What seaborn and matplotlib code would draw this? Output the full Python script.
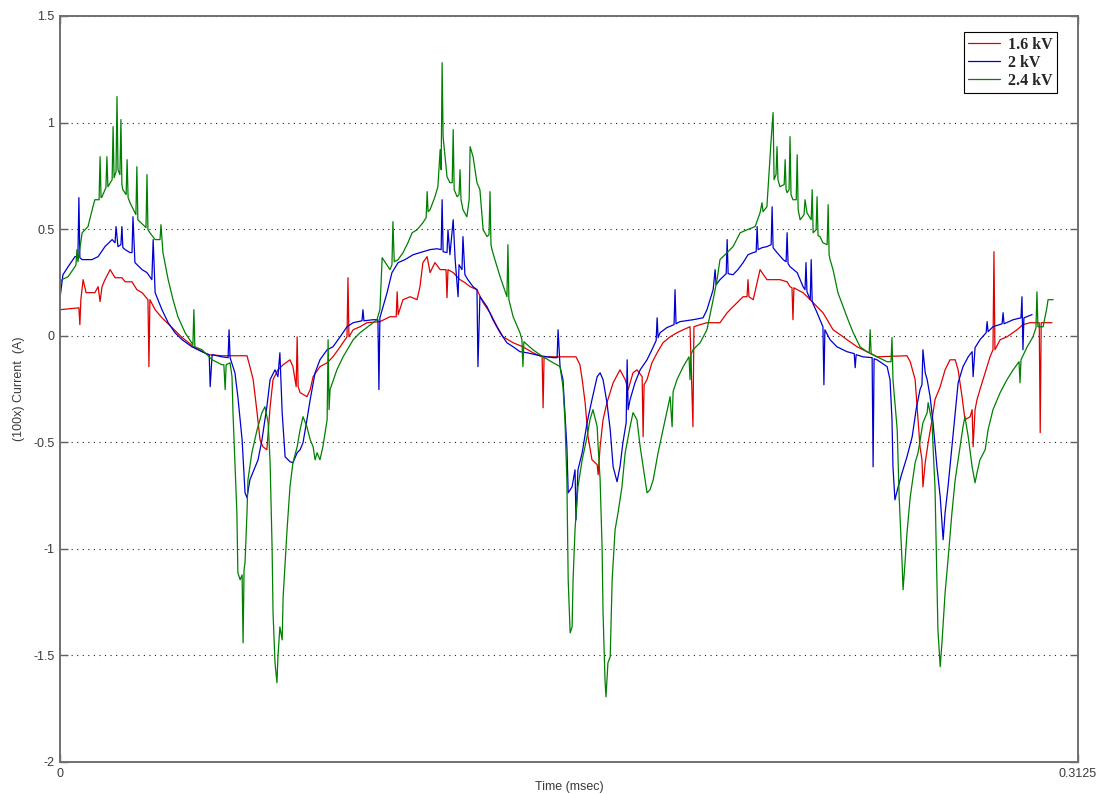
import matplotlib
matplotlib.use("Agg")
import matplotlib.pyplot as plt
import pandas as pd
import seaborn as sns

# ---------------- data (time in msec, current in 100x A) ----------------
red_t = [0.0000,0.0055,0.0058,0.0061,0.0064,0.0071,0.0080,0.0107,0.0117,0.0123,
         0.0129,0.0138,0.0154,0.0169,0.0190,0.0200,0.0221,0.0236,0.0252,0.0270,
         0.0273,0.0276,0.0292,0.0313,0.0344,0.0375,0.0414,0.0454,0.0497,0.0574,
         0.0583,0.0593,0.0605,0.0614,0.0623,0.0635,0.0645,0.0654,0.0669,0.0685,
         0.0706,0.0715,0.0725,0.0728,0.0731,0.0737,0.0758,0.0768,0.0777,0.0798,
         0.0820,0.0838,0.0860,0.0881,0.0884,0.0887,0.0900,0.0921,0.0942,0.0982,
         0.1013,0.1032,0.1035,0.1038,0.1053,0.1075,0.1096,0.1105,0.1114,0.1127,
         0.1136,0.1151,0.1167,0.1185,0.1188,0.1191,0.1207,0.1228,0.1243,0.1259,
         0.1280,0.1299,0.1320,0.1342,0.1360,0.1391,0.1421,0.1452,0.1480,0.1483,
         0.1486,0.1584,0.1596,0.1603,0.1612,0.1621,0.1633,0.1649,0.1652,0.1658,
         0.1667,0.1679,0.1698,0.1719,0.1735,0.1744,0.1759,0.1771,0.1787,0.1790,
         0.1793,0.1802,0.1817,0.1833,0.1851,0.1873,0.1894,0.1913,0.1934,0.1943,
         0.1946,0.1965,0.1986,0.2026,0.2048,0.2066,0.2097,0.2109,0.2112,0.2115,
         0.2128,0.2149,0.2170,0.2210,0.2232,0.2241,0.2247,0.2250,0.2253,0.2263,
         0.2281,0.2303,0.2324,0.2342,0.2355,0.2373,0.2404,0.2416,0.2447,0.2477,
         0.2508,0.2600,0.2610,0.2625,0.2631,0.2640,0.2646,0.2649,0.2656,0.2665,
         0.2677,0.2686,0.2702,0.2717,0.2732,0.2748,0.2757,0.2769,0.2778,0.2794,
         0.2800,0.2803,0.2809,0.2815,0.2824,0.2840,0.2855,0.2864,0.2867,0.2870,
         0.2886,0.2907,0.2938,0.2956,0.2978,0.3006,0.3009,0.3012,0.3045]
red_i = [0.122,0.131,0.131,0.052,0.169,0.263,0.202,0.202,0.230,0.160,
         0.230,0.263,0.310,0.272,0.272,0.253,0.253,0.216,0.202,0.169,
         -0.145,0.169,0.122,0.084,0.038,-0.009,-0.056,-0.089,-0.094,-0.094,
         -0.145,-0.206,-0.361,-0.488,-0.521,-0.535,-0.333,-0.206,-0.160,-0.136,
         -0.113,-0.145,-0.239,-0.005,-0.239,-0.267,-0.286,-0.253,-0.192,-0.145,
         -0.127,-0.099,-0.052,-0.005,0.272,-0.005,0.028,0.042,0.061,0.066,
         0.089,0.089,0.206,0.099,0.169,0.183,0.169,0.230,0.343,0.371,
         0.296,0.343,0.310,0.310,0.178,0.310,0.296,0.263,0.249,0.230,
         0.216,0.155,0.108,0.042,-0.005,-0.033,-0.052,-0.080,-0.099,-0.338,
         -0.099,-0.099,-0.136,-0.206,-0.314,-0.474,-0.582,-0.605,-0.652,-0.521,
         -0.394,-0.314,-0.221,-0.160,-0.206,-0.253,-0.174,-0.160,-0.192,-0.474,
         -0.230,-0.206,-0.127,-0.080,-0.033,-0.005,0.014,0.028,0.042,-0.427,
         0.042,0.052,0.061,0.061,0.108,0.136,0.183,0.183,0.263,0.183,
         0.169,0.310,0.263,0.263,0.253,0.230,0.225,0.075,0.225,0.216,
         0.202,0.169,0.136,0.108,0.075,0.028,-0.005,-0.019,-0.052,-0.075,
         -0.099,-0.094,-0.122,-0.206,-0.333,-0.521,-0.582,-0.709,-0.596,-0.502,
         -0.394,-0.300,-0.239,-0.160,-0.113,-0.113,-0.160,-0.286,-0.394,-0.380,
         -0.347,-0.521,-0.347,-0.300,-0.253,-0.174,-0.099,-0.066,0.394,-0.066,
         -0.019,-0.005,0.028,0.052,0.061,0.061,-0.455,0.061,0.061]

blue_t = [0.0000,0.0009,0.0025,0.0046,0.0055,0.0058,0.0061,0.0068,0.0098,0.0117,
          0.0138,0.0160,0.0169,0.0172,0.0178,0.0187,0.0190,0.0193,0.0200,0.0215,
          0.0221,0.0224,0.0230,0.0252,0.0267,0.0282,0.0286,0.0292,0.0313,0.0332,
          0.0353,0.0375,0.0405,0.0436,0.0458,0.0461,0.0467,0.0497,0.0516,0.0519,
          0.0522,0.0537,0.0546,0.0559,0.0568,0.0574,0.0583,0.0599,0.0608,0.0620,
          0.0635,0.0645,0.0660,0.0669,0.0675,0.0682,0.0691,0.0706,0.0715,0.0728,
          0.0737,0.0746,0.0758,0.0768,0.0783,0.0798,0.0820,0.0838,0.0860,0.0881,
          0.0900,0.0927,0.0930,0.0933,0.0961,0.0976,0.0979,0.0982,0.0989,0.1004,
          0.1019,0.1038,0.1059,0.1084,0.1114,0.1136,0.1157,0.1170,0.1173,0.1176,
          0.1188,0.1191,0.1197,0.1207,0.1213,0.1222,0.1225,0.1234,0.1237,0.1243,
          0.1252,0.1268,0.1280,0.1283,0.1289,0.1311,0.1329,0.1351,0.1372,0.1391,
          0.1412,0.1434,0.1474,0.1514,0.1526,0.1529,0.1535,0.1544,0.1550,0.1556,
          0.1560,0.1572,0.1581,0.1584,0.1590,0.1603,0.1618,0.1633,0.1649,0.1658,
          0.1667,0.1679,0.1689,0.1698,0.1710,0.1719,0.1728,0.1738,0.1741,0.1744,
          0.1750,0.1765,0.1781,0.1802,0.1817,0.1830,0.1833,0.1836,0.1842,0.1863,
          0.1885,0.1888,0.1891,0.1903,0.1943,0.1974,0.1986,0.2005,0.2011,0.2014,
          0.2026,0.2045,0.2048,0.2051,0.2066,0.2081,0.2097,0.2112,0.2128,0.2137,
          0.2140,0.2143,0.2155,0.2170,0.2183,0.2186,0.2189,0.2201,0.2220,0.2229,
          0.2232,0.2235,0.2241,0.2263,0.2281,0.2287,0.2290,0.2293,0.2303,0.2306,
          0.2309,0.2324,0.2342,0.2345,0.2348,0.2364,0.2385,0.2416,0.2438,0.2441,
          0.2444,0.2465,0.2493,0.2496,0.2499,0.2508,0.2539,0.2548,0.2554,0.2557,
          0.2563,0.2573,0.2585,0.2600,0.2616,0.2628,0.2640,0.2646,0.2649,0.2656,
          0.2662,0.2671,0.2680,0.2692,0.2702,0.2711,0.2717,0.2726,0.2738,0.2748,
          0.2757,0.2772,0.2788,0.2800,0.2803,0.2809,0.2824,0.2843,0.2846,0.2849,
          0.2864,0.2892,0.2895,0.2898,0.2926,0.2950,0.2953,0.2956,0.2959,0.2984]
blue_i = [0.178,0.286,0.324,0.371,0.371,0.648,0.366,0.357,0.357,0.371,
          0.418,0.451,0.436,0.512,0.418,0.427,0.512,0.413,0.404,0.390,
          0.390,0.558,0.343,0.310,0.296,0.263,0.451,0.202,0.122,0.061,
          0.014,-0.019,-0.052,-0.075,-0.089,-0.239,-0.089,-0.099,-0.103,0.028,
          -0.103,-0.174,-0.286,-0.488,-0.737,-0.760,-0.676,-0.615,-0.582,-0.488,
          -0.333,-0.206,-0.160,-0.192,-0.080,-0.361,-0.568,-0.591,-0.596,-0.549,
          -0.535,-0.502,-0.394,-0.300,-0.174,-0.113,-0.066,-0.052,-0.005,0.042,
          0.061,0.070,0.122,0.070,0.075,0.075,-0.253,0.084,0.122,0.202,
          0.296,0.343,0.357,0.380,0.394,0.404,0.408,0.404,0.638,0.394,
          0.390,0.497,0.380,0.544,0.357,0.183,0.333,0.310,0.465,0.286,
          0.263,0.230,0.216,-0.145,0.183,0.136,0.075,0.014,-0.033,-0.052,
          -0.075,-0.080,-0.094,-0.103,-0.103,0.028,-0.145,-0.206,-0.361,-0.521,
          -0.737,-0.709,-0.629,-0.864,-0.629,-0.549,-0.408,-0.300,-0.192,-0.174,
          -0.206,-0.314,-0.441,-0.615,-0.685,-0.615,-0.502,-0.408,-0.113,-0.347,
          -0.300,-0.221,-0.160,-0.113,-0.066,-0.023,0.084,-0.009,0.014,0.038,
          0.052,0.216,0.056,0.066,0.075,0.084,0.122,0.216,0.310,0.239,
          0.263,0.291,0.451,0.291,0.286,0.310,0.343,0.380,0.390,0.394,
          0.512,0.404,0.413,0.418,0.427,0.605,0.413,0.390,0.357,0.347,
          0.483,0.338,0.324,0.296,0.230,0.216,0.343,0.206,0.169,0.357,
          0.160,0.108,0.042,-0.230,0.028,-0.019,-0.052,-0.075,-0.084,-0.150,
          -0.089,-0.099,-0.103,-0.615,-0.108,-0.113,-0.145,-0.206,-0.394,-0.615,
          -0.770,-0.709,-0.643,-0.568,-0.474,-0.347,-0.253,-0.230,-0.066,-0.174,
          -0.206,-0.286,-0.408,-0.615,-0.756,-0.957,-0.831,-0.709,-0.521,-0.361,
          -0.221,-0.145,-0.099,-0.075,-0.192,-0.056,-0.019,0.014,0.066,0.019,
          0.042,0.056,0.108,0.056,0.075,0.084,0.183,-0.066,0.084,0.099]

green_t = [0.0000,0.0006,0.0025,0.0046,0.0049,0.0052,0.0055,0.0068,0.0086,0.0101,
           0.0107,0.0120,0.0123,0.0126,0.0129,0.0141,0.0144,0.0147,0.0160,0.0163,
           0.0166,0.0172,0.0175,0.0178,0.0184,0.0187,0.0190,0.0193,0.0203,0.0206,
           0.0209,0.0215,0.0233,0.0236,0.0239,0.0261,0.0264,0.0267,0.0270,0.0276,
           0.0292,0.0307,0.0310,0.0316,0.0332,0.0347,0.0362,0.0384,0.0408,0.0411,
           0.0414,0.0436,0.0467,0.0497,0.0503,0.0507,0.0510,0.0522,0.0528,0.0531,
           0.0537,0.0543,0.0546,0.0553,0.0559,0.0562,0.0565,0.0568,0.0574,0.0577,
           0.0589,0.0605,0.0620,0.0629,0.0639,0.0645,0.0651,0.0654,0.0660,0.0666,
           0.0669,0.0675,0.0682,0.0685,0.0697,0.0706,0.0715,0.0728,0.0737,0.0746,
           0.0758,0.0768,0.0777,0.0783,0.0789,0.0798,0.0807,0.0820,0.0823,0.0826,
           0.0829,0.0850,0.0869,0.0900,0.0921,0.0961,0.0973,0.0982,0.0989,0.1013,
           0.1019,0.1022,0.1026,0.1038,0.1053,0.1068,0.1081,0.1096,0.1114,0.1124,
           0.1127,0.1130,0.1136,0.1151,0.1160,0.1167,0.1170,0.1173,0.1176,0.1188,
           0.1197,0.1204,0.1207,0.1210,0.1219,0.1225,0.1228,0.1231,0.1237,0.1249,
           0.1256,0.1259,0.1268,0.1280,0.1289,0.1299,0.1311,0.1317,0.1320,0.1323,
           0.1326,0.1335,0.1351,0.1372,0.1375,0.1378,0.1391,0.1412,0.1418,0.1421,
           0.1424,0.1434,0.1452,0.1483,0.1514,0.1535,0.1544,0.1550,0.1556,0.1560,
           0.1566,0.1572,0.1575,0.1581,0.1590,0.1603,0.1618,0.1627,0.1636,0.1649,
           0.1652,0.1658,0.1664,0.1667,0.1673,0.1676,0.1682,0.1689,0.1695,0.1704,
           0.1713,0.1725,0.1735,0.1750,0.1759,0.1771,0.1781,0.1790,0.1802,0.1811,
           0.1821,0.1836,0.1851,0.1873,0.1879,0.1882,0.1894,0.1913,0.1931,0.1934,
           0.1937,0.1943,0.1965,0.1986,0.2005,0.2017,0.2026,0.2048,0.2066,0.2088,
           0.2109,0.2134,0.2149,0.2155,0.2158,0.2170,0.2183,0.2189,0.2192,0.2198,
           0.2201,0.2204,0.2210,0.2223,0.2226,0.2229,0.2232,0.2238,0.2241,0.2244,
           0.2250,0.2260,0.2263,0.2266,0.2272,0.2284,0.2287,0.2293,0.2306,0.2309,
           0.2312,0.2321,0.2324,0.2327,0.2333,0.2342,0.2355,0.2358,0.2361,0.2364,
           0.2373,0.2388,0.2404,0.2419,0.2435,0.2456,0.2477,0.2484,0.2487,0.2490,
           0.2508,0.2539,0.2551,0.2554,0.2557,0.2570,0.2576,0.2585,0.2588,0.2594,
           0.2600,0.2610,0.2625,0.2634,0.2649,0.2662,0.2665,0.2677,0.2680,0.2686,
           0.2692,0.2695,0.2702,0.2708,0.2717,0.2726,0.2738,0.2748,0.2763,0.2772,
           0.2778,0.2788,0.2800,0.2809,0.2815,0.2824,0.2840,0.2849,0.2864,0.2886,
           0.2907,0.2926,0.2944,0.2947,0.2950,0.2969,0.2987,0.2996,0.2999,0.3002,
           0.3018,0.3030,0.3033,0.3049]
green_i = [0.239,0.263,0.277,0.324,0.333,0.404,0.347,0.483,0.512,0.605,
           0.638,0.638,0.840,0.648,0.652,0.695,0.840,0.699,0.732,0.981,
           0.741,0.770,1.122,0.779,0.756,1.014,0.709,0.685,0.662,0.826,
           0.648,0.624,0.568,0.793,0.544,0.512,0.507,0.756,0.497,0.483,
           0.451,0.451,0.521,0.390,0.263,0.169,0.089,0.014,-0.042,0.122,
           -0.052,-0.066,-0.113,-0.136,-0.136,-0.253,-0.136,-0.127,-0.192,-0.361,
           -0.596,-0.831,-1.112,-1.145,-1.122,-1.441,-1.098,-1.065,-0.831,-0.676,
           -0.549,-0.441,-0.361,-0.333,-0.408,-0.596,-0.990,-1.300,-1.535,-1.628,
           -1.506,-1.366,-1.427,-1.225,-0.910,-0.709,-0.596,-0.521,-0.441,-0.380,
           -0.427,-0.488,-0.521,-0.582,-0.549,-0.582,-0.521,-0.394,-0.019,-0.347,
           -0.253,-0.160,-0.099,-0.019,0.014,0.061,0.075,0.122,0.366,0.310,
           0.333,0.535,0.347,0.357,0.390,0.436,0.483,0.497,0.530,0.554,
           0.676,0.582,0.591,0.652,0.699,0.873,0.779,1.281,0.934,0.746,
           0.718,0.718,0.967,0.685,0.652,0.662,0.779,0.638,0.591,0.558,
           0.638,0.887,0.840,0.718,0.685,0.497,0.465,0.474,0.676,0.427,
           0.404,0.357,0.277,0.183,0.427,0.169,0.089,0.014,-0.019,-0.145,
           -0.028,-0.042,-0.066,-0.099,-0.127,-0.145,-0.239,-0.394,-0.676,-1.145,
           -1.394,-1.366,-1.145,-0.910,-0.709,-0.582,-0.474,-0.394,-0.347,-0.427,
           -0.521,-0.676,-0.990,-1.300,-1.614,-1.694,-1.535,-1.506,-1.145,-0.910,
           -0.831,-0.709,-0.549,-0.427,-0.361,-0.394,-0.521,-0.615,-0.737,-0.723,
           -0.676,-0.549,-0.441,-0.286,-0.427,-0.263,-0.206,-0.145,-0.099,-0.206,
           -0.089,-0.066,-0.033,0.028,0.169,0.263,0.357,0.390,0.418,0.483,
           0.497,0.512,0.577,0.624,0.582,0.605,0.920,1.047,0.732,0.756,
           0.887,0.732,0.699,0.709,0.826,0.685,0.671,0.685,0.934,0.662,
           0.638,0.638,0.849,0.591,0.544,0.568,0.638,0.577,0.544,0.685,
           0.483,0.497,0.652,0.469,0.465,0.436,0.427,0.615,0.380,0.357,
           0.310,0.202,0.136,0.075,0.014,-0.052,-0.075,-0.080,0.028,-0.084,
           -0.099,-0.122,-0.122,-0.009,-0.206,-0.441,-0.756,-1.065,-1.192,-1.065,
           -0.925,-0.756,-0.596,-0.549,-0.408,-0.361,-0.314,-0.408,-0.521,-0.709,
           -1.145,-1.380,-1.553,-1.427,-1.206,-1.051,-0.831,-0.676,-0.521,-0.427,
           -0.380,-0.474,-0.615,-0.690,-0.643,-0.582,-0.535,-0.441,-0.347,-0.267,
           -0.206,-0.160,-0.122,-0.221,-0.113,-0.052,-0.005,0.038,0.206,0.042,
           0.042,0.136,0.169,0.169]

series_labels = ["1.6 kV", "2 kV", "2.4 kV"]
series_colors = ["#e00000", "#0000d0", "#008000"]
yticks = [-2, -1.5, -1, -0.5, 0, 0.5, 1, 1.5]
ytick_labels = ["-2", "-1.5", "-1", "-0.5", "0", "0.5", "1", "1.5"]
xticks = [0, 0.3125]
xtick_labels = ["0", "0.3125"]

# ---------------- figure ----------------
sns.set_theme(style="white")
plt.rcParams["font.family"] = ["Liberation Sans", "DejaVu Sans"]

W, H = 1102, 794
fig = plt.figure(figsize=(W / 100, H / 100), dpi=100)
fig.patch.set_facecolor("white")
ax = fig.add_axes([60 / W, 1 - 762 / H, 1018 / W, 746 / H])
ax.set_facecolor("white")

for t, v, c, lab in zip([red_t, blue_t, green_t], [red_i, blue_i, green_i],
                        series_colors, series_labels):
    df = pd.DataFrame({"t": t, "i": v})
    sns.lineplot(data=df, x="t", y="i", color=c, linewidth=0.9,
                 estimator=None, sort=False, ax=ax, label=lab, legend=False)

ax.set_xlim(0, 0.3125)
ax.set_ylim(-2, 1.5)
ax.set_yticks(yticks)
ax.set_yticklabels(ytick_labels)
ax.set_xticks(xticks)
ax.set_xticklabels(xtick_labels)

ax.yaxis.grid(True, linestyle=(0, (1, 4)), color="#222222", linewidth=0.8)
ax.xaxis.grid(False)

for s in ax.spines.values():
    s.set_visible(True)
    s.set_color("#707070")
    s.set_linewidth(1.4)

ax.tick_params(axis="y", direction="in", length=6, width=1, color="#606060",
               left=True, right=True, labelsize=9, labelcolor="#3a3a3a", pad=4)
ax.tick_params(axis="x", direction="in", length=6, width=1, color="#606060",
               bottom=True, top=True, labelsize=9, labelcolor="#3a3a3a", pad=4)

ax.set_xlabel("Time (msec)", fontsize=9, color="#3a3a3a")
ax.set_ylabel("(100x) Current  (A)", fontsize=9, color="#3a3a3a")
ax.xaxis.set_label_coords(0.5, -0.026)
ax.yaxis.set_label_coords(-0.034, 0.5)

handles, labels = ax.get_legend_handles_labels()
leg = ax.legend(handles, labels, loc="upper right",
                bbox_to_anchor=(1057 / W, 1 - 32 / H), bbox_transform=fig.transFigure,
                borderaxespad=0, frameon=True, fancybox=False, framealpha=1,
                edgecolor="black",
                prop={"family": "Liberation Serif", "weight": "bold", "size": 11.5},
                handlelength=2.0, handletextpad=0.45, labelspacing=0.12,
                borderpad=0.3)
leg.get_frame().set_linewidth(0.8)

fig.savefig("out.png", dpi=100, facecolor="white")
